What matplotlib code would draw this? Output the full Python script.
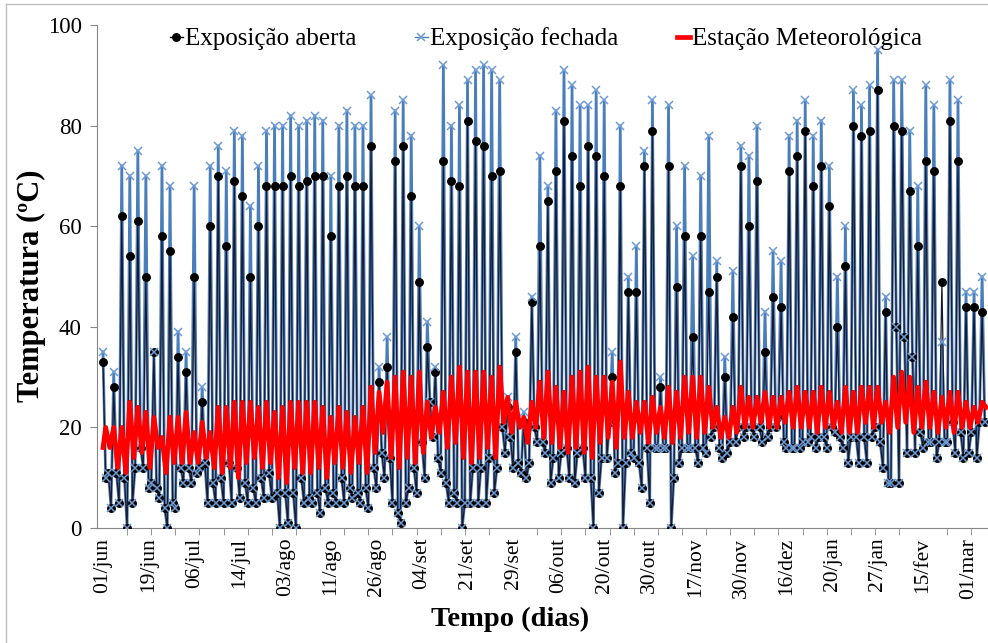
import matplotlib
matplotlib.use("Agg")
import matplotlib.pyplot as plt
from matplotlib.lines import Line2D

# Leituras: 1 leitura inicial + 3 leituras por dia (pico, mínimo 1, mínimo 2)
inicio_aberta = 33
inicio_fechada = 35
inicio_estacao = 16

aberta_pico = [10, 28, 62, 54, 61, 50, 35, 58, 55, 34,
               31, 50, 25, 60, 70, 56, 69, 66, 50, 60,
               68, 68, 68, 70, 68, 69, 70, 70, 58, 68,
               70, 68, 68, 76, 29, 32, 73, 76, 66, 49,
               36, 31, 73, 69, 68, 81, 77, 76, 70, 71,
               24, 35, 21, 45, 56, 65, 71, 81, 74, 68,
               76, 74, 70, 30, 68, 47, 47, 72, 79, 28,
               72, 48, 58, 38, 58, 47, 50, 30, 42, 72,
               60, 69, 35, 46, 44, 71, 74, 79, 68, 72,
               64, 40, 52, 80, 78, 79, 87, 43, 80, 79,
               67, 56, 73, 71, 49, 81, 73, 44, 44, 43]

fechada_pico = [10, 31, 72, 70, 75, 70, 35, 72, 68, 39,
                35, 68, 28, 72, 76, 71, 79, 78, 64, 72,
                79, 80, 80, 82, 80, 81, 82, 81, 70, 80,
                83, 80, 80, 86, 32, 38, 83, 85, 78, 60,
                41, 32, 92, 80, 84, 89, 91, 92, 91, 89,
                26, 38, 23, 46, 74, 68, 83, 91, 88, 84,
                84, 87, 85, 35, 80, 50, 56, 75, 85, 30,
                84, 60, 72, 54, 70, 78, 53, 34, 51, 76,
                74, 80, 43, 55, 53, 78, 81, 85, 78, 81,
                72, 50, 60, 87, 84, 88, 95, 46, 89, 89,
                79, 68, 88, 84, 37, 89, 85, 47, 47, 50]

minimo_1 = [11, 11, 10, 5, 16, 8, 8, 4, 5, 12,
            12, 11, 13, 9, 10, 13, 12, 9, 8, 10,
            11, 7, 7, 7, 10, 6, 7, 8, 7, 10,
            8, 7, 8, 12, 15, 14, 3, 5, 12, 17,
            25, 14, 9, 7, 0, 5, 5, 5, 7, 20,
            18, 13, 10, 20, 17, 9, 10, 16, 9, 16,
            10, 7, 14, 11, 0, 15, 13, 16, 16, 16,
            0, 13, 16, 16, 16, 18, 16, 15, 17, 18,
            20, 20, 18, 20, 17, 16, 16, 17, 16, 18,
            20, 18, 13, 18, 18, 18, 17, 9, 40, 38,
            34, 19, 17, 14, 17, 21, 19, 15, 14, 21]

minimo_2 = [4, 5, 0, 12, 12, 9, 6, 0, 4, 9,
            9, 12, 5, 5, 5, 5, 6, 5, 5, 6,
            6, 0, 1, 0, 5, 5, 3, 5, 5, 5,
            6, 5, 4, 8, 10, 5, 1, 8, 7, 10,
            18, 11, 5, 5, 5, 12, 12, 14, 12, 15,
            12, 11, 13, 17, 15, 14, 15, 10, 15, 10,
            0, 14, 21, 13, 13, 14, 8, 5, 16, 16,
            10, 16, 16, 13, 15, 20, 14, 17, 20, 20,
            18, 17, 20, 22, 16, 16, 17, 18, 18, 16,
            19, 16, 18, 13, 13, 20, 12, 9, 9, 15,
            15, 16, 17, 17, 17, 15, 14, 19, 21, 20]

estacao_max = [20, 20, 20, 25, 24, 23, 22, 18, 22, 22,
               23, 19, 21, 19, 24, 24, 25, 25, 25, 24,
               25, 23, 24, 25, 25, 25, 25, 24, 22, 24,
               23, 22, 24, 28, 27, 29, 30, 31, 30, 31,
               25, 24, 27, 30, 32, 31, 31, 31, 30, 32,
               26, 25, 22, 25, 29, 31, 28, 27, 30, 31,
               32, 30, 30, 29, 33, 27, 25, 25, 26, 24,
               28, 27, 30, 30, 30, 28, 24, 22, 24, 28,
               26, 26, 27, 26, 26, 27, 28, 27, 27, 28,
               27, 25, 28, 27, 28, 28, 28, 25, 30, 31,
               30, 28, 29, 27, 26, 27, 27, 25, 24, 25]

estacao_min = [16, 12, 11, 14, 15, 12, 16, 11, 13, 13,
               13, 13, 14, 12, 11, 12, 10, 13, 14, 12,
               13, 10, 9, 12, 11, 11, 12, 10, 13, 12,
               11, 13, 11, 15, 19, 14, 12, 14, 13, 15,
               18, 19, 16, 17, 14, 13, 14, 16, 14, 21,
               19, 20, 17, 20, 18, 17, 16, 15, 16, 15,
               14, 17, 18, 16, 18, 18, 19, 17, 19, 18,
               17, 18, 19, 18, 19, 20, 18, 18, 19, 20,
               20, 21, 20, 20, 21, 20, 20, 20, 19, 20,
               20, 19, 19, 19, 21, 20, 21, 19, 20, 21,
               19, 20, 20, 19, 20, 19, 20, 20, 21, 24]

rotulos = ["01/jun", "19/jun", "06/jul", "14/jul", "03/ago", "11/ago", "26/ago",
           "04/set", "21/set", "29/set", "06/out", "20/out", "30/out", "17/nov",
           "30/nov", "16/dez", "20/jan", "27/jan", "15/fev", "01/mar"]

N = 330  # número de leituras visíveis


def plot():
    plt.rcParams["font.family"] = ["Liberation Serif", "DejaVu Serif"]

    # montar as séries ponto a ponto
    aberta = [inicio_aberta]
    fechada = [inicio_fechada]
    x_est = [0]
    estacao = [inicio_estacao]
    for k in range(len(aberta_pico)):
        aberta += [aberta_pico[k], minimo_1[k], minimo_2[k]]
        fechada += [fechada_pico[k], minimo_1[k], minimo_2[k]]
        x_est += [3 * k + 1, 3 * k + 2.5]
        estacao += [estacao_max[k], estacao_min[k]]
    aberta = aberta[:N]
    fechada = fechada[:N]
    x = list(range(N))

    fig = plt.figure(figsize=(9.88, 6.43), dpi=100)
    ax = fig.add_axes([97 / 988, 1 - 528 / 643, 891 / 988, 503 / 643])

    # linhas (azul por baixo, preta por cima) e depois os marcadores
    ax.plot(x, fechada, color="#4A7EBB", lw=2.0, zorder=2)
    ax.plot(x, aberta, color="#1A1A2E", lw=0.9, zorder=3)
    ax.plot(x, aberta, ls="none", marker="o", ms=5.4, color="black", zorder=4)
    ax.plot(x, fechada, ls="none", marker="x", ms=5.2, mec="#6E9BD6", mew=1.1, zorder=5)
    ax.plot(x_est, estacao, color="#FF0000", lw=3.4, zorder=6,
            solid_joinstyle="round")

    ax.set_xlim(-2.24, 330.2)
    ax.set_ylim(0, 100)
    ax.set_yticks(range(0, 101, 20))
    ax.set_xticks(range(0, 17 * len(rotulos), 17))
    ax.set_xticklabels(rotulos, rotation=90, fontsize=15.5)
    ax.set_xticks(range(0, N, 9), minor=True)
    ax.tick_params(axis="x", which="major", length=0, pad=7)
    ax.tick_params(axis="x", which="minor", length=5, color="#868686")
    ax.tick_params(axis="y", length=5, color="#868686", labelsize=16.5, pad=6)

    for s in ["top", "right"]:
        ax.spines[s].set_visible(False)
    for s in ["left", "bottom"]:
        ax.spines[s].set_color("#868686")

    ax.set_ylabel("Temperatura (ºC)", fontsize=22, fontweight="bold")
    ax.yaxis.set_label_coords((46 - 97) / 891, (528 - 286) / 503)
    ax.set_xlabel("Tempo (dias)", fontsize=20.5, fontweight="bold")
    ax.xaxis.set_label_coords((510 - 97) / 891, (528 - 607) / 503)

    handles = [
        Line2D([], [], color="black", lw=1, marker="o", ms=5.4),
        Line2D([], [], color="#4A7EBB", lw=1, marker="x", ms=5.2, mec="#6E9BD6", mew=1.1),
        Line2D([], [], color="#FF0000", lw=3.4),
    ]
    ax.legend(handles, ["Exposição aberta", "Exposição fechada", "Estação Meteorológica"],
              loc="upper left", bbox_to_anchor=((160 - 97) / 891, 1.015), ncol=3,
              frameon=False, fontsize=18, handlelength=0.5, handletextpad=0.1,
              columnspacing=2.35, borderaxespad=0.0)

    # moldura do gráfico (parcialmente cortada)
    fig.add_artist(Line2D([6 / 988, 6 / 988], [0, 1 - 4 / 643],
                          transform=fig.transFigure, color="#BFBFBF", lw=1))
    fig.add_artist(Line2D([6 / 988, 1], [1 - 4 / 643, 1 - 4 / 643],
                          transform=fig.transFigure, color="#BFBFBF", lw=1))

    fig.savefig("out.png", dpi=100)


if __name__ == "__main__":
    plot()
